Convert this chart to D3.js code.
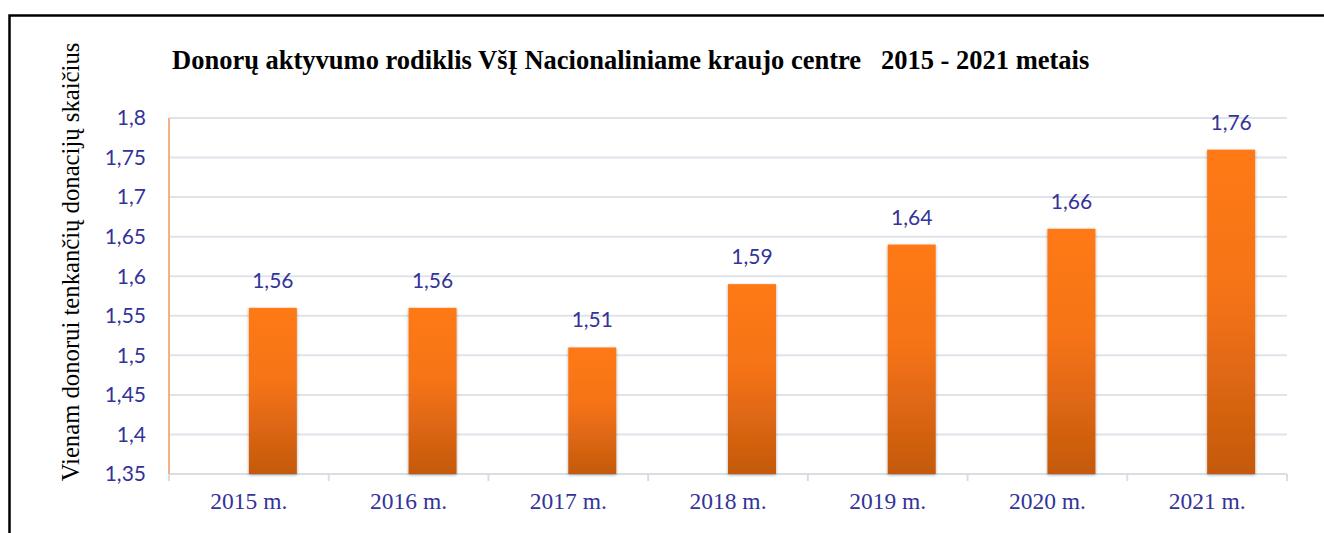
<!DOCTYPE html>
<html>
<head>
<meta charset="utf-8">
<script src="https://cdn.jsdelivr.net/npm/d3@7"></script>
<style>
  body { margin: 0; background: #fff; }
</style>
</head>
<body>
<div id="chart"></div>
<script>
// data
var years = ["2015 m.", "2016 m.", "2017 m.", "2018 m.", "2019 m.", "2020 m.", "2021 m."];
var values = [1.56, 1.56, 1.51, 1.59, 1.64, 1.66, 1.76];
var yTicks = [1.35, 1.4, 1.45, 1.5, 1.55, 1.6, 1.65, 1.7, 1.75, 1.8];
var seriesSlots = ["empty", "value"]; // excel chart had a hidden first series, bar sits in 2nd slot

var w = 1324, h = 533;
var margin = { top: 118, right: 37, bottom: 59, left: 169 };
var width = w - margin.left - margin.right;
var height = h - margin.top - margin.bottom;

var svg = d3.select("#chart").append("svg")
    .attr("width", w)
    .attr("height", h);

// outer frame (runs off the right and bottom edge)
svg.append("rect")
    .attr("x", 9.5).attr("y", 15.5)
    .attr("width", w + 20).attr("height", h + 20)
    .attr("fill", "none")
    .attr("stroke", "#000")
    .attr("stroke-width", 2.5);

var defs = svg.append("defs");
var grad = defs.append("linearGradient")
    .attr("id", "barGrad")
    .attr("x1", 0).attr("y1", 0).attr("x2", 0).attr("y2", 1);
grad.append("stop").attr("offset", "0%").attr("stop-color", "#ff7a12");
grad.append("stop").attr("offset", "45%").attr("stop-color", "#f57315");
grad.append("stop").attr("offset", "100%").attr("stop-color", "#c4590f");

var shadow = defs.append("filter").attr("id", "shadow")
    .attr("x", "-20%").attr("y", "-5%").attr("width", "140%").attr("height", "110%");
shadow.append("feDropShadow")
    .attr("dx", 0).attr("dy", 1)
    .attr("stdDeviation", 1.5)
    .attr("flood-color", "#000")
    .attr("flood-opacity", 0.35);

var g = svg.append("g")
    .attr("transform", "translate(" + margin.left + "," + margin.top + ")");

var x = d3.scaleBand().domain(years).range([0, width]).paddingInner(0).paddingOuter(0);
var x1 = d3.scaleBand().domain(seriesSlots).range([x.bandwidth() / 2 - 48, x.bandwidth() / 2 + 48]);
var y = d3.scaleLinear().domain([1.35, 1.8]).range([height, 0]);

// gridlines
g.append("g")
    .selectAll("line")
    .data(yTicks.slice(1))
    .enter()
    .append("line")
    .attr("x1", 0).attr("x2", width)
    .attr("y1", d => y(d)).attr("y2", d => y(d))
    .attr("stroke", "#dfe3ea")
    .attr("stroke-width", 2);

// x axis line + ticks between categories
var xAxis = g.append("g")
    .attr("transform", "translate(0," + height + ")");
xAxis.append("line")
    .attr("x1", 0).attr("x2", width)
    .attr("stroke", "#d9dde4")
    .attr("stroke-width", 2);
xAxis.selectAll(".tk")
    .data(years.concat(["end"]))
    .enter()
    .append("line")
    .attr("class", "tk")
    .attr("x1", (d, i) => i * x.step())
    .attr("x2", (d, i) => i * x.step())
    .attr("y1", 0).attr("y2", 7)
    .attr("stroke", "#d9dde4")
    .attr("stroke-width", 2);
xAxis.selectAll("text")
    .data(years)
    .enter()
    .append("text")
    .attr("x", d => x(d) + x.bandwidth() / 2)
    .attr("y", 35)
    .attr("text-anchor", "middle")
    .style("font-family", "'Liberation Serif', 'Times New Roman', serif")
    .style("font-size", "23.5px")
    .style("fill", "#333399")
    .text(d => d);

// bars
g.append("g")
    .selectAll("rect")
    .data(values)
    .enter()
    .append("rect")
    .attr("x", (d, i) => x(years[i]) + x1("value"))
    .attr("y", d => y(d))
    .attr("width", x1.bandwidth())
    .attr("height", d => height - y(d))
    .attr("fill", "url(#barGrad)")
    .attr("filter", "url(#shadow)");

// data labels
g.append("g")
    .selectAll("text")
    .data(values)
    .enter()
    .append("text")
    .attr("x", (d, i) => x(years[i]) + x1("value") + x1.bandwidth() / 2)
    .attr("y", d => y(d) - 20)
    .attr("text-anchor", "middle")
    .style("font-family", "Lato, 'Open Sans', sans-serif")
    .style("font-size", "21px")
    .style("fill", "#333399")
    .text(d => String(d).replace(".", ","));

// y axis - orange line, tick labels
g.append("line")
    .attr("x1", 0).attr("x2", 0)
    .attr("y1", 0).attr("y2", height)
    .attr("stroke", "#f4b183")
    .attr("stroke-width", 2);

g.append("g")
    .selectAll("text")
    .data(yTicks)
    .enter()
    .append("text")
    .attr("x", -23)
    .attr("y", d => y(d))
    .attr("dy", "0.35em")
    .attr("text-anchor", "end")
    .style("font-family", "Lato, 'Open Sans', sans-serif")
    .style("font-size", "21px")
    .style("fill", "#333399")
    .text(d => String(d).replace(".", ","));

// title
svg.append("text")
    .attr("x", 172)
    .attr("y", 69)
    .style("font-family", "'Liberation Serif', 'Times New Roman', serif")
    .style("font-weight", "bold")
    .style("font-size", "26.5px")
    .style("white-space", "pre")
    .attr("xml:space", "preserve")
    .text("Donorų aktyvumo rodiklis VšĮ Nacionaliniame kraujo centre   2015 - 2021 metais");

// y axis title
svg.append("text")
    .attr("transform", "translate(79," + 262 + ") rotate(-90)")
    .attr("text-anchor", "middle")
    .style("font-family", "'Liberation Serif', 'Times New Roman', serif")
    .style("font-size", "24.7px")
    .text("Vienam donorui tenkančių donacijų skaičius");
</script>
</body>
</html>
